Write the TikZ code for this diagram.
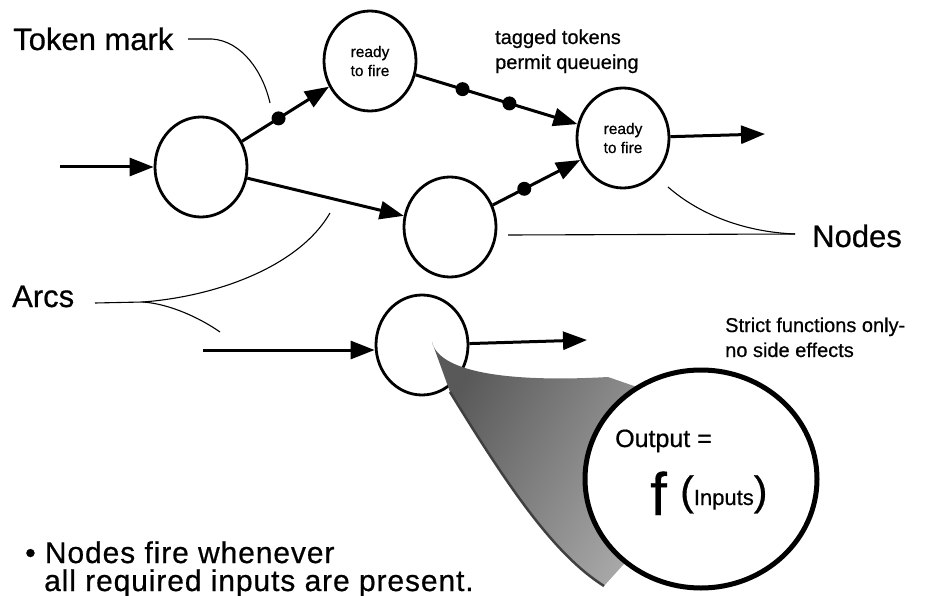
\documentclass[tikz,border=0pt]{standalone}
\usepackage{fontspec}
\setmainfont{Liberation Sans}[FakeBold=0.6]
\usetikzlibrary{arrows.meta,shapes.geometric}
\begin{document}
\begin{tikzpicture}[x=1pt,y=-1pt,
  fnode/.style={ellipse, draw, line width=2.8pt, minimum width=92pt, minimum height=100pt, inner sep=0pt, align=center, font=\fontsize{15.5}{19}\selectfont},
  arcline/.style={line width=3pt, -{Triangle[length=24pt,width=18pt]}},
  lead/.style={line width=1.1pt},
  token/.style={circle, fill=black, inner sep=0pt, minimum size=14pt},
  biglabel/.style={anchor=base west, font=\fontsize{31}{34}\selectfont, inner sep=0pt},
  botlabel/.style={anchor=base west, font=\fontsize{30}{32}\selectfont\addfontfeature{LetterSpace=3}, inner sep=0pt},
  midlabel/.style={anchor=base west, font=\fontsize{20}{24}\selectfont, inner sep=0pt},
]
\useasboundingbox (0,0) rectangle (926,596);

% nodes
\node[fnode] (A) at (201,167) {};
\node[fnode] (B) at (370,61) {ready\\to fire};
\node[fnode] (C) at (450,227) {};
\node[fnode] (D) at (623,138) {ready\\to fire};
\node[fnode] (E) at (422,345) {};

% arcs
\coordinate (ain) at (60,167);
\draw[arcline] (ain) -- (A);
\draw[arcline] (A) -- node[token, pos=0.42] (t1) {} (B);
\draw[arcline] (B) -- node[token, pos=0.29] (t2) {} node[token, pos=0.58] (t3) {} (D);
\draw[arcline] (A) -- (C);
\draw[arcline] (C) -- node[token, pos=0.36] (t4) {} (D);
\coordinate (dout) at (765,134);
\draw[arcline] (D) -- (dout);
\coordinate (ein) at (203,350);
\draw[arcline] (ein) -- (ein -| E.west);
\coordinate (eout) at (587,340);
\draw[arcline] (E) -- (eout);

% cone (zoom)
\shade[left color=black!65, right color=black!30, shading angle=60]
  (432,342) .. controls (440,375) and (520,382) .. (608,377)
  -- (660,395) -- (700,480) -- (604,586)
  .. controls (555,555) and (510,490) .. (450,392) -- cycle;
\draw[black!75, line width=2.5pt] (604,586) .. controls (555,555) and (510,490) .. (450,392);

% big circle
\node[ellipse, draw, line width=5pt, fill=white, minimum width=232pt, minimum height=218pt, inner sep=0pt] (F) at (701,479) {};
\node[anchor=base west, font=\fontsize{25}{28}\selectfont, inner sep=0pt] (out) at (615,447) {Output =};
\node[anchor=base west, font=\fontsize{60}{60}\selectfont, inner sep=0pt] (ff) at (650,515) {f};
\node[anchor=base west, inner sep=0pt] (inp) at (680,505) {\fontsize{41}{41}\selectfont(\fontsize{22}{24}\selectfont Inputs\fontsize{41}{41}\selectfont)};

% labels
\node[biglabel] (tok) at (13,50) {Token mark};
\node[biglabel] (arcs) at (12,307) {Arcs};
\node[biglabel] (nodes) at (812,247) {Nodes};
\node[midlabel] (tag1) at (495,44) {tagged tokens};
\node[midlabel] (tag2) at (495,69) {permit queueing};
\node[midlabel] (str1) at (725,332) {Strict functions only-};
\node[midlabel] (str2) at (725,357) {no side effects};
\node[botlabel] (bul1) at (25,563) {\textbullet\ Nodes fire whenever};
\node[botlabel] (bul2) at (44,591) {all required inputs are present.};

% leaders
\coordinate (tk0) at (188,39);
\coordinate (tk1) at (212,39);
\coordinate (tk2) at (270,103);
\draw[lead] (tk0) -- (tk1) .. controls (242,41) and (263,72) .. (tk2);
\coordinate (ar0) at (95,303);
\coordinate (abr) at (143,302);
\coordinate (ar1) at (330,213);
\coordinate (ar2) at (220,332);
\draw[lead] (ar0) -- (abr);
\draw[lead] (abr) .. controls (220,296) and (300,265) .. (ar1);
\draw[lead] (abr) .. controls (170,304) and (200,318) .. (ar2);
\coordinate (nd0) at (508,235);
\coordinate (nd1) at (795,234);
\coordinate (nd2) at (668,187);
\draw[lead] (nd0) -- (nd1);
\draw[lead] (nd2) .. controls (700,215) and (745,232) .. (nd1);
\end{tikzpicture}
\end{document}
